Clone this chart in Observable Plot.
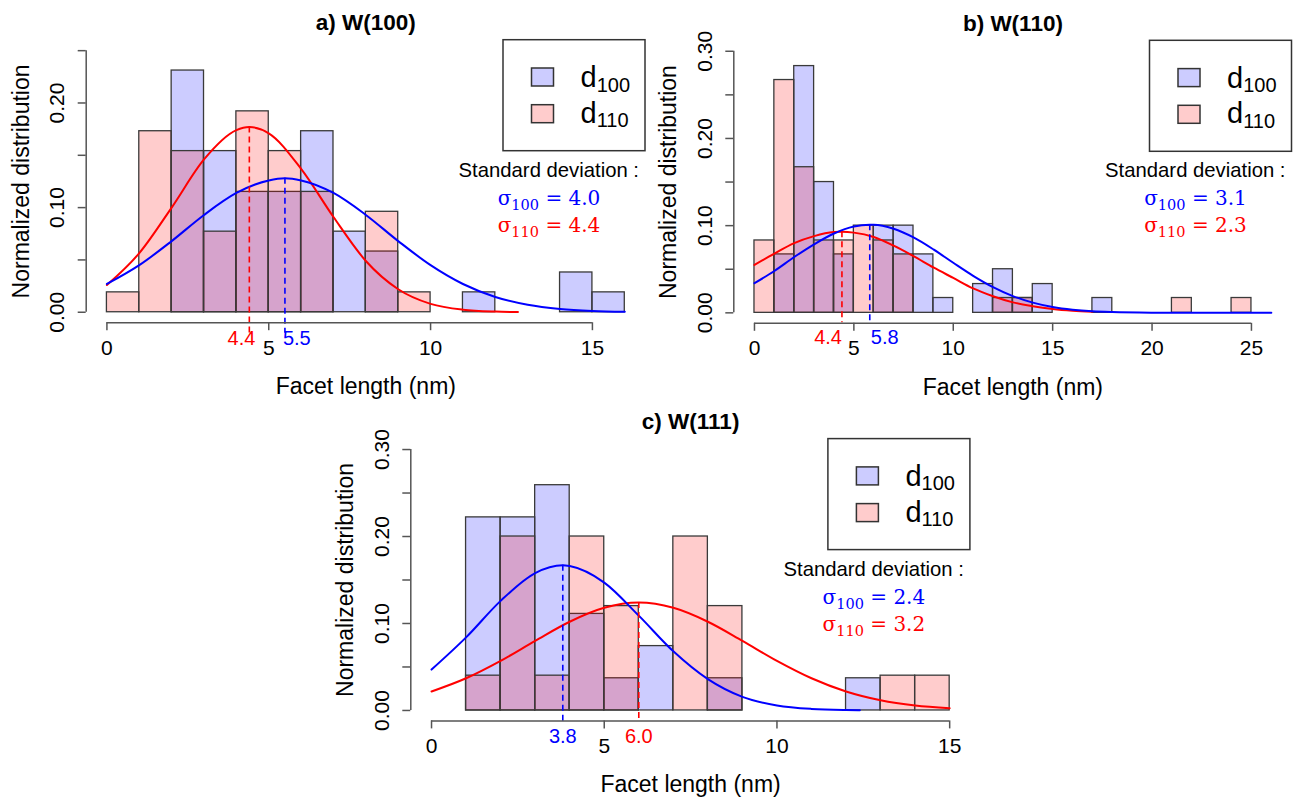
<!DOCTYPE html>
<html><head><meta charset="utf-8">
<script src="https://cdn.jsdelivr.net/npm/d3@7"></script>
<script src="https://cdn.jsdelivr.net/npm/@observablehq/plot@0.6"></script>
<style>
html,body{margin:0;padding:0;background:#fff;}
#wrap{position:relative;width:1298px;height:799px;overflow:hidden;background:#fff;}
.panel{position:absolute;}
</style></head>
<body><div id="wrap"></div>
<script>
// ---------- Panel a) W(100) ----------
const aEdges = [0,1,2,3,4,5,6,7,8,9,10,11,12,13,14,15,16];
const aD100 = [0,0,0.231,0.154,0.115,0.115,0.173,0.077,0.058,0,0,0.019,0,0,0.038,0.019];
const aD110 = [0.019,0.173,0.154,0.077,0.192,0.154,0.115,0,0.096,0.019,0,0,0,0,0,0];
const aFitX100 = [0,1,2,3,4,5,5.5,6,7,8,9,10,11,12,13,14,15,16];
const aFitY100 = [0.027,0.045,0.068,0.093,0.114,0.126,0.128,0.126,0.114,0.093,0.068,0.045,0.027,0.0146,0.0071,0.0031,0.0012,0.0004];
const aFitX110 = [0,1,2,3,4,4.4,5,6,7,8,9,10,11,12,12.7];
const aFitY110 = [0.026,0.0565,0.100,0.146,0.174,0.177,0.171,0.137,0.091,0.049,0.022,0.008,0.0024,0.0006,0.0002];
const aMean100 = 5.5, aMean110 = 4.4;
const aSd100 = "4.0", aSd110 = "4.4";
const aXTicks = [0,5,10,15];
const aYTicks = [0,0.05,0.10,0.15,0.20,0.25];
const aYLabels = [0,0.10,0.20];

// ---------- Panel b) W(110) ----------
const bEdges = [0,1,2,3,4,5,6,7,8,9,10,11,12,13,14,15,16,17,18,19,20,21,22,23,24,25,26];
const bD100 = [0,0.067,0.283,0.150,0.067,0,0.100,0.100,0.067,0.017,0,0.033,0.050,0.017,0.033,0,0,0.017,0,0,0,0,0,0,0,0];
const bD110 = [0.083,0.267,0.167,0.083,0.083,0.100,0.083,0.067,0,0,0,0,0.017,0.017,0,0,0,0,0,0,0,0.017,0,0,0.017,0];
const bFitX100 = [0,1,2,3,4,5,5.8,6,7,8,9,10,11,12,13,14,15,16,17,18,20,22,26];
const bFitY100 = [0.034,0.048,0.064,0.0786,0.091,0.099,0.101,0.101,0.0965,0.0865,0.0728,0.0574,0.0425,0.0295,0.0192,0.0117,0.0067,0.0036,0.0018,0.0009,0.0002,0.00002,0];
const bFitX110 = [0,1,2,3,4,4.4,5,6,7,8,9,10,11,12,13,14,15,16,17];
const bFitY110 = [0.055,0.068,0.080,0.088,0.0926,0.093,0.092,0.087,0.077,0.065,0.052,0.040,0.028,0.019,0.012,0.0076,0.0044,0.0024,0.0012];
const bMean100 = 5.8, bMean110 = 4.4;
const bSd100 = "3.1", bSd110 = "2.3";
const bXTicks = [0,5,10,15,20,25];
const bYTicks = [0,0.05,0.10,0.15,0.20,0.25,0.30];
const bYLabels = [0,0.10,0.20,0.30];

// ---------- Panel c) W(111) ----------
const cEdges = [1,2,3,4,5,6,7,8,9,10,11,12,13,14,15];
const cD100 = [0.222,0.222,0.259,0.111,0.037,0.074,0,0.037,0,0,0,0.037,0,0];
const cD110 = [0.040,0.200,0.040,0.200,0.120,0,0.200,0.120,0,0,0,0,0.040,0.040];
const cFitX100 = [0,1,2,3,3.8,4,5,6,7,8,9,10,11,12,12.4];
const cFitY100 = [0.047,0.084,0.126,0.158,0.167,0.166,0.147,0.109,0.068,0.036,0.0156,0.0058,0.0018,0.0005,0.0003];
const cFitX110 = [0,1,2,3,4,5,6,7,8,9,10,11,12,13,14,15];
const cFitY110 = [0.0218,0.037,0.057,0.080,0.102,0.118,0.124,0.118,0.102,0.080,0.057,0.037,0.0218,0.0117,0.0057,0.0025];
const cMean100 = 3.8, cMean110 = 6.0;
const cSd100 = "2.4", cSd110 = "3.2";
const cXTicks = [0,5,10,15];
const cYTicks = [0,0.05,0.10,0.15,0.20,0.25,0.30];
const cYLabels = [0,0.10,0.20,0.30];

const SANS = "'Liberation Sans', Arial, Helvetica, sans-serif";
const SERIF = "'DejaVu Serif', 'Liberation Serif', serif";
const BLUE = "#0000ff", RED = "#ff0000", AX = "#555555", EDGE = "#3a3a3a";

function makePanel(p) {
  const bars100 = p.d100.map((v, i) => ({x1: p.edges[i], x2: p.edges[i + 1], y: v})).filter(d => d.y > 0);
  const bars110 = p.d110.map((v, i) => ({x1: p.edges[i], x2: p.edges[i + 1], y: v})).filter(d => d.y > 0);
  const fit100 = p.fitX100.map((x, i) => ({x, y: p.fitY100[i]}));
  const fit110 = p.fitX110.map((x, i) => ({x, y: p.fitY110[i]}));
  const xMin = Math.min(p.edges[0], p.fitX100[0], p.fitX110[0]);
  const xMax = Math.max(p.edges[p.edges.length - 1], d3.max(p.fitX100), d3.max(p.fitX110));
  const xr = xMax - xMin;
  const yTop = p.yTicks[p.yTicks.length - 1];
  const xDomain = [xMin - 0.04 * xr, xMax + 0.04 * xr];
  const yDomain = [-0.04 * yTop, 1.04 * yTop];
  const peak100 = d3.max(p.fitY100), peak110 = d3.max(p.fitY110);

  const svg = Plot.plot({
    width: p.w, height: p.h,
    marginLeft: p.ml, marginRight: p.mr, marginTop: p.mt, marginBottom: p.mb,
    x: {domain: xDomain},
    y: {domain: yDomain},
    style: {fontFamily: SANS, background: "white", overflow: "visible", color: "black"},
    marks: [
      Plot.rectY(bars100, {x1: "x1", x2: "x2", y1: 0, y2: "y", fill: BLUE, fillOpacity: 0.2, stroke: EDGE, strokeWidth: 1.3}),
      Plot.rectY(bars110, {x1: "x1", x2: "x2", y1: 0, y2: "y", fill: RED, fillOpacity: 0.2, stroke: EDGE, strokeWidth: 1.3}),
      Plot.line(fit110, {x: "x", y: "y", stroke: RED, strokeWidth: 2, curve: "monotone-x"}),
      Plot.line(fit100, {x: "x", y: "y", stroke: BLUE, strokeWidth: 2, curve: "monotone-x"}),
      Plot.ruleX([p.mean110], {x: d => d, y1: peak110, y2: 0, insetBottom: -p.ext110, stroke: RED, strokeWidth: 1.6, strokeDasharray: "6,4"}),
      Plot.ruleX([p.mean100], {x: d => d, y1: peak100, y2: 0, insetBottom: -p.ext100, stroke: BLUE, strokeWidth: 1.6, strokeDasharray: "6,4"}),
      Plot.ruleY([yDomain[0]], {x1: p.xTicks[0], x2: p.xTicks[p.xTicks.length - 1], stroke: AX, strokeWidth: 1.5}),
      Plot.ruleX([xDomain[0]], {y1: p.yTicks[0], y2: yTop, stroke: AX, strokeWidth: 1.5}),
      Plot.axisX({ticks: p.xTicks, tickSize: 8, tickPadding: 9, fontSize: 21, stroke: AX, strokeWidth: 1.5, label: null}),
      Plot.axisY({ticks: p.yTicks, tickSize: 8, tickFormat: () => "", stroke: AX, strokeWidth: 1.5, label: null}),
      Plot.text(p.yLabels, {y: d => d, text: d => d.toFixed(2), frameAnchor: "left", dx: -29, rotate: -90, textAnchor: "middle", lineAnchor: "middle", fontSize: 21}),
      Plot.text([p.title], {text: d => d, frameAnchor: "top", dy: -17, textAnchor: "middle", fontWeight: "bold", fontSize: 22.5, lineAnchor: "middle"}),
      Plot.text(["Facet length (nm)"], {text: d => d, frameAnchor: "bottom", dy: 64, textAnchor: "middle", fontSize: 23, lineAnchor: "middle"}),
      Plot.text(["Normalized distribution"], {text: d => d, frameAnchor: "left", dx: -65, rotate: -90, textAnchor: "middle", fontSize: 23, lineAnchor: "middle"}),
      Plot.text([p.mean110], {x: d => d, text: d => d.toFixed(1), frameAnchor: "bottom", dy: p.meanDy, dx: p.dx110, textAnchor: p.anchor110, fill: RED, fontSize: 20, lineAnchor: "middle"}),
      Plot.text([p.mean100], {x: d => d, text: d => d.toFixed(1), frameAnchor: "bottom", dy: p.meanDy, dx: p.dx100, textAnchor: p.anchor100, fill: BLUE, fontSize: 20, lineAnchor: "middle"})
    ]
  });

  // legend + standard deviation annotation, anchored on the frame's top-right corner
  const right = p.w - p.mr, top = p.mt;
  const g = d3.select(svg).append("g").attr("text-anchor", "start");
  const bx = right - 142;
  g.append("rect").attr("x", bx).attr("y", top).attr("width", 142).attr("height", 111)
    .attr("fill", "white").attr("stroke", "#333").attr("stroke-width", 1.5);
  const rows = [["100", BLUE, 28.3, 47.3], ["110", RED, 65, 83]];
  for (const [sub, col, sy, ty] of rows) {
    g.append("rect").attr("x", bx + 28.5).attr("y", top + sy).attr("width", 22).attr("height", 18)
      .attr("fill", col).attr("fill-opacity", 0.2).attr("stroke", "#333").attr("stroke-width", 1.5);
    const t = g.append("text").attr("x", bx + 77.5).attr("y", top + ty).attr("text-anchor", "start")
      .attr("font-family", SANS).attr("font-size", 29).attr("fill", "black");
    t.append("tspan").text("d");
    t.append("tspan").attr("font-size", 20).attr("dy", 4.5).text(sub);
  }
  g.append("text").attr("x", right - 6).attr("y", top + 137).attr("text-anchor", "end")
    .attr("font-family", SANS).attr("font-size", 20.3).attr("fill", "black").text("Standard deviation :");
  const sds = [["100", p.sd100, BLUE, 165], ["110", p.sd110, RED, 192]];
  for (const [sub, val, col, ty] of sds) {
    const t = g.append("text").attr("x", right - 96).attr("y", top + ty).attr("text-anchor", "middle")
      .attr("font-family", SERIF).attr("font-size", 20).attr("fill", col);
    t.append("tspan").text("σ");
    t.append("tspan").attr("font-size", 14.5).attr("dy", 5).text(sub);
    t.append("tspan").attr("dy", -5).text(" = " + val);
  }
  return svg;
}

const panels = [
  {left: 0, topPx: 0, w: 650, h: 400, ml: 85.7, mr: 5, mt: 39.7, mb: 77.8,
   edges: aEdges, d100: aD100, d110: aD110, fitX100: aFitX100, fitY100: aFitY100, fitX110: aFitX110, fitY110: aFitY110,
   mean100: aMean100, mean110: aMean110, sd100: aSd100, sd110: aSd110, xTicks: aXTicks, yTicks: aYTicks, yLabels: aYLabels,
   title: "a) W(100)", ext100: 21, ext110: 21, meanDy: 16, dx110: 6, anchor110: "end", dx100: -2, anchor100: "start"},
  {left: 650, topPx: 0, w: 648, h: 400, ml: 83.3, mr: 6.5, mt: 40.3, mb: 77.2,
   edges: bEdges, d100: bD100, d110: bD110, fitX100: bFitX100, fitY100: bFitY100, fitX110: bFitX110, fitY110: bFitY110,
   mean100: bMean100, mean110: bMean110, sd100: bSd100, sd110: bSd110, xTicks: bXTicks, yTicks: bYTicks, yLabels: bYLabels,
   title: "b) W(110)", ext100: 12, ext110: 10, meanDy: 14.5, dx110: 0, anchor110: "end", dx100: 1, anchor100: "start"},
  {left: 320, topPx: 400, w: 680, h: 399, ml: 90.3, mr: 30.1, mt: 38.6, mb: 78.6,
   edges: cEdges, d100: cD100, d110: cD110, fitX100: cFitX100, fitY100: cFitY100, fitX110: cFitX110, fitY110: cFitY110,
   mean100: cMean100, mean110: cMean110, sd100: cSd100, sd110: cSd110, xTicks: cXTicks, yTicks: cYTicks, yLabels: cYLabels,
   title: "c) W(111)", ext100: 12, ext110: 12, meanDy: 15.5, dx110: 0, anchor110: "middle", dx100: 0, anchor100: "middle"}
];

const wrap = document.getElementById("wrap");
for (const p of panels) {
  const div = document.createElement("div");
  div.className = "panel";
  div.style.left = p.left + "px";
  div.style.top = p.topPx + "px";
  div.style.width = p.w + "px";
  div.style.height = p.h + "px";
  div.appendChild(makePanel(p));
  wrap.appendChild(div);
}
</script>
</body></html>
